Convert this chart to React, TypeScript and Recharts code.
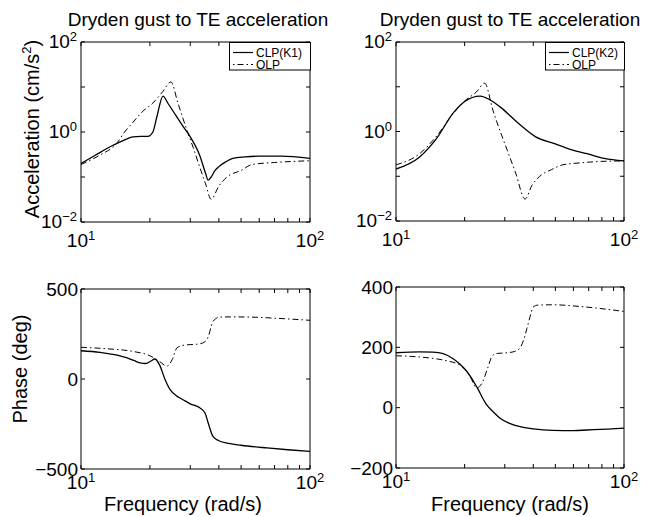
import React from "react";
import { LineChart, Line, XAxis, YAxis, Legend } from "recharts";

const FONT = '"Liberation Sans", Arial, Helvetica, sans-serif';
const W = 647;
const H = 517;

// axes
const freqTicks = [10, 20, 30, 40, 50, 60, 70, 80, 90, 100];
const magTicks = [0.01, 0.1, 1, 10, 100];
const phaseTicksK1 = [-500, 0, 500];
const phaseTicksK2 = [-200, 0, 200, 400];

// magnitude, CLP(K1) vs OLP
const magK1Freq = [10, 11.5, 13.4, 15, 16.9, 18.2, 19.6, 20.6, 21.5, 22.8, 24, 26, 28, 30, 33, 35, 35.9, 37, 38.5, 40, 43, 46, 52, 60, 75, 100];
const magK1Val = [0.2, 0.3, 0.47, 0.62, 0.78, 0.8, 0.8, 1.0, 2.3, 6.3, 4.3, 2.3, 1.3, 0.78, 0.3, 0.12, 0.085, 0.1, 0.14, 0.17, 0.22, 0.26, 0.28, 0.29, 0.29, 0.26];
const magOlpFreqL = [10, 12, 14.4, 15.5, 16.9, 18.5, 20.6, 22.8, 24.7, 26.5, 29, 31, 33, 35, 37, 40, 43.4, 50, 56, 70, 100];
const magOlpValL = [0.19, 0.3, 0.58, 1.0, 1.66, 2.8, 4.4, 8, 13, 4.4, 1.1, 0.43, 0.166, 0.07, 0.032, 0.063, 0.1, 0.14, 0.19, 0.21, 0.23];

// magnitude, CLP(K2) vs OLP
const magK2Freq = [10, 12.7, 15.1, 17.8, 20, 23.4, 26, 28.6, 35, 41, 48.8, 58, 68.8, 82, 100];
const magK2Val = [0.145, 0.27, 0.71, 2.57, 4.7, 6.2, 5.0, 3.55, 1.41, 0.76, 0.55, 0.4, 0.32, 0.25, 0.22];
const magOlpFreqR = [10, 12.7, 15.1, 17.8, 20, 22.5, 24.5, 26.6, 30.7, 33.5, 36.8, 39.5, 42.7, 48, 53.9, 65, 80, 100];
const magOlpValR = [0.18, 0.32, 0.8, 2.5, 4.8, 7.6, 12, 3.0, 0.39, 0.117, 0.031, 0.063, 0.1, 0.14, 0.18, 0.2, 0.215, 0.22];

// phase, CLP(K1) vs OLP
const phK1Freq = [10, 12.1, 14, 15.9, 17, 18.1, 19.2, 20.2, 21, 22, 23.3, 24.5, 26, 27.9, 30, 33, 34.8, 35.9, 37.7, 40, 43.4, 50, 64.9, 80, 100];
const phK1Val = [157, 148, 135, 117, 103, 90, 86, 100, 111, 80, -4, -59, -92, -115, -138, -160, -189, -243, -319, -343, -356, -368, -383, -393, -402];
const phOlpFreqL = [10, 13, 16.9, 20, 22, 23.7, 25, 26.2, 27.5, 29, 32, 34, 35.9, 37, 37.7, 40.4, 45, 54.7, 70, 100];
const phOlpValL = [176, 168, 153, 129, 98, 72, 107, 172, 185, 190, 193, 200, 233, 290, 320, 344, 345, 344, 338, 326];

// phase, CLP(K2) vs OLP
const phK2Freq = [10, 12.7, 14.5, 16.1, 17.8, 19.2, 20.5, 22.6, 25, 26.8, 28.6, 31.5, 35, 40, 48.8, 60, 68.8, 85, 100];
const phK2Val = [182, 185, 184, 179, 162, 142, 119, 69, 9, -15, -35, -52, -63, -70, -75, -76, -74, -71, -68];
const phOlpFreqR = [10, 12.7, 15, 17, 19.1, 21, 22.6, 24, 25.2, 26.6, 28, 30.7, 33, 35, 36.3, 37.5, 39, 39.9, 42, 48.8, 65, 100];
const phOlpValR = [172, 168, 162, 154, 141, 108, 66, 86, 130, 174, 180, 182, 186, 198, 225, 262, 310, 333, 340, 341, 335, 319];

const pts = (f: number[], v: number[]) => f.map((x, i) => ({ f: x, v: v[i] }));

const TICK = 4;

const Pow10 = ({ x, y, exp, anchor }: any) => (
  <text x={x} y={y} textAnchor={anchor} fontSize={19} fontFamily={FONT} fill="#000">
    10
    <tspan dy={-7} fontSize={13}>
      {exp < 0 ? `\u2212${-exp}` : exp}
    </tspan>
  </text>
);

const XTick = (props: any) => {
  const { x, y, payload, dir, dy } = props;
  const v = payload.value;
  const decade = v === 10 || v === 100;
  return (
    <g>
      <line x1={x} y1={y} x2={x} y2={y + dir * TICK} stroke="#000" />
      {dy != null && decade && <Pow10 x={x} y={y + dy} exp={Math.round(Math.log10(v))} anchor="middle" />}
    </g>
  );
};

const YTick = (props: any) => {
  const { x, y, payload, dir, labelled, logY } = props;
  const v = payload.value;
  let label: React.ReactNode = null;
  if (labelled) {
    if (logY) {
      const e = Math.round(Math.log10(v));
      if (e % 2 === 0) label = <Pow10 x={x - 4} y={y + 6} exp={e} anchor="end" />;
    } else {
      label = (
        <text x={x - 3} y={y + 6.5} textAnchor="end" fontSize={19} fontFamily={FONT} fill="#000">
          {v < 0 ? `\u2212${-v}` : v}
        </text>
      );
    }
  }
  return (
    <g>
      <line x1={x} y1={y} x2={x + dir * TICK} y2={y} stroke="#000" />
      {label}
    </g>
  );
};

const LegendBox = ({ name, width }: { name: string; width: number }) => (
  <svg width={width} height={31} style={{ display: "block", overflow: "visible" }}>
    <rect x={0.5} y={0.5} width={width - 1} height={27.5} fill="#fff" stroke="#000" />
    <line x1={4} y1={10.5} x2={24} y2={10.5} stroke="#000" strokeWidth={1.2} />
    <line x1={4} y1={22.5} x2={24} y2={22.5} stroke="#000" strokeDasharray="1.5 3 6 3" />
    <text x={27} y={14.5} fontSize={12} fontFamily={FONT} fill="#000">{name}</text>
    <text x={27} y={26.5} fontSize={12} fontFamily={FONT} fill="#000">OLP</text>
  </svg>
);

type PanelProps = {
  box: { l: number; t: number; r: number; b: number };
  logY: boolean;
  yDomain: number[];
  yTicks: number[];
  xDy: number;
  clp: { f: number; v: number }[];
  olp: { f: number; v: number }[];
  clpName?: string;
  legendW?: number;
};

const Panel = ({ box, logY, yDomain, yTicks, xDy, clp, olp, clpName, legendW = 81 }: PanelProps) => (
  <div style={{ position: "absolute", left: 0, top: 0 }}>
    <LineChart
      width={W}
      height={H}
      margin={{ left: box.l - 1, top: box.t - 1, right: W - box.r - 1, bottom: H - box.b - 1 }}
    >
      <XAxis
        xAxisId="b"
        dataKey="f"
        type="number"
        scale="log"
        domain={[10, 100]}
        allowDataOverflow
        ticks={freqTicks}
        interval={0}
        height={1}
        tickSize={0}
        tickMargin={0}
        tickLine={false}
        axisLine={{ stroke: "#000" }}
        tick={(p: any) => <XTick {...p} dir={-1} dy={xDy} />}
      />
      <XAxis
        xAxisId="t"
        orientation="top"
        dataKey="f"
        type="number"
        scale="log"
        domain={[10, 100]}
        allowDataOverflow
        ticks={freqTicks}
        interval={0}
        height={1}
        tickSize={0}
        tickMargin={0}
        tickLine={false}
        axisLine={{ stroke: "#000" }}
        tick={(p: any) => <XTick {...p} dir={1} />}
      />
      <YAxis
        yAxisId="l"
        type="number"
        scale={logY ? "log" : "linear"}
        domain={yDomain}
        allowDataOverflow
        ticks={yTicks}
        interval={0}
        width={1}
        tickSize={0}
        tickMargin={0}
        tickLine={false}
        axisLine={{ stroke: "#000" }}
        tick={(p: any) => <YTick {...p} dir={1} labelled logY={logY} />}
      />
      <YAxis
        yAxisId="r"
        orientation="right"
        type="number"
        scale={logY ? "log" : "linear"}
        domain={yDomain}
        allowDataOverflow
        ticks={yTicks}
        interval={0}
        width={1}
        tickSize={0}
        tickMargin={0}
        tickLine={false}
        axisLine={{ stroke: "#000" }}
        tick={(p: any) => <YTick {...p} dir={-1} labelled={false} logY={logY} />}
      />
      <Line
        xAxisId="b"
        yAxisId="l"
        data={olp}
        dataKey="v"
        type="monotone"
        stroke="#000"
        strokeWidth={1}
        strokeDasharray="6 3 1.5 3"
        dot={false}
        isAnimationActive={false}
      />
      <Line
        xAxisId="b"
        yAxisId="l"
        data={clp}
        dataKey="v"
        type="monotone"
        stroke="#000"
        strokeWidth={1.3}
        dot={false}
        isAnimationActive={false}
      />
      {clpName && (
        <Legend
          layout="vertical"
          align="center"
          verticalAlign="middle"
          content={() => <LegendBox name={clpName} width={legendW} />}
          wrapperStyle={{ position: "absolute", left: box.r - legendW + 1, top: box.t, width: legendW, height: 31 }}
        />
      )}
    </LineChart>
  </div>
);

const App = () => (
  <div style={{ position: "absolute", left: 0, top: 0, width: W, height: H, background: "#fff", fontFamily: FONT }}>
    <Panel
      box={{ l: 81, t: 42, r: 310, b: 222 }}
      logY
      yDomain={[0.01, 100]}
      yTicks={magTicks}
      xDy={25}
      clp={pts(magK1Freq, magK1Val)}
      olp={pts(magOlpFreqL, magOlpValL)}
      clpName="CLP(K1)"
      legendW={82}
    />
    <Panel
      box={{ l: 396, t: 42, r: 624, b: 221 }}
      logY
      yDomain={[0.01, 100]}
      yTicks={magTicks}
      xDy={25}
      clp={pts(magK2Freq, magK2Val)}
      olp={pts(magOlpFreqR, magOlpValR)}
      clpName="CLP(K2)"
      legendW={80}
    />
    <Panel
      box={{ l: 81, t: 289, r: 310, b: 469 }}
      logY={false}
      yDomain={[-500, 500]}
      yTicks={phaseTicksK1}
      xDy={20}
      clp={pts(phK1Freq, phK1Val)}
      olp={pts(phOlpFreqL, phOlpValL)}
    />
    <Panel
      box={{ l: 396, t: 287, r: 624, b: 468 }}
      logY={false}
      yDomain={[-200, 400]}
      yTicks={phaseTicksK2}
      xDy={20}
      clp={pts(phK2Freq, phK2Val)}
      olp={pts(phOlpFreqR, phOlpValR)}
    />
    <svg width={W} height={H} style={{ position: "absolute", left: 0, top: 0, pointerEvents: "none" }}>
      <g fontFamily={FONT} fill="#000">
        <text x={198} y={26} textAnchor="middle" fontSize={19}>Dryden gust to TE acceleration</text>
        <text x={510} y={26} textAnchor="middle" fontSize={19}>Dryden gust to TE acceleration</text>
        <text transform="translate(39,129) rotate(-90)" textAnchor="middle" fontSize={20}>
          Acceleration (cm/s<tspan dy={-8} fontSize={13}>2</tspan><tspan dy={8}>)</tspan>
        </text>
        <text transform="translate(27,369) rotate(-90)" textAnchor="middle" fontSize={20}>Phase (deg)</text>
        <text x={183} y={511} textAnchor="middle" fontSize={20}>Frequency (rad/s)</text>
        <text x={510} y={511} textAnchor="middle" fontSize={20}>Frequency (rad/s)</text>
      </g>
    </svg>
  </div>
);

export default App;
